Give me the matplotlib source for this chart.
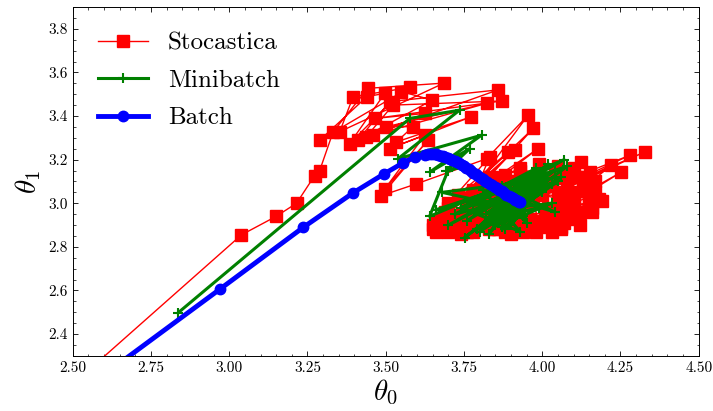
import matplotlib
matplotlib.use("Agg")
from matplotlib import pyplot as plt
from matplotlib.ticker import MultipleLocator

# traiettorie (theta0, theta1)
stoc_t0 = [2.50, 3.039, 3.150, 3.215, 3.273, 3.289, 3.332, 3.443, 3.686, 3.353,
           3.396, 3.577, 3.289, 3.440, 3.497, 3.385, 3.550, 3.649, 3.411, 3.513,
           3.859, 3.438, 3.523, 3.870, 3.467, 3.625, 3.459, 3.822, 3.502, 3.587,
           3.534, 3.774, 3.513, 3.625, 3.497, 3.635, 3.486, 3.598, 3.822, 3.955,
           3.710, 3.971, 3.690, 3.987, 3.650, 3.912, 3.660, 3.891, 3.700, 3.832,
           3.740, 4.125, 3.800, 4.280, 3.950, 4.327, 4.050, 4.221, 4.000, 4.253,
           4.100, 4.152, 3.660, 3.680, 3.720, 3.750, 3.780, 3.800, 3.830, 3.850,
           3.880, 3.900, 3.920, 3.950, 3.970, 3.990, 4.010, 4.030, 4.050, 4.070,
           4.090, 4.110, 4.130, 4.150, 4.170, 4.120, 4.080, 4.020, 3.980, 3.940,
           3.900, 3.860, 3.820, 3.780, 3.760, 3.730, 3.700, 3.840, 3.930, 4.040,
           4.100, 4.060, 3.960, 3.870, 3.790, 4.140, 4.180, 4.000, 3.910, 3.810,
           3.670, 3.860, 4.060, 3.740, 3.950, 4.160, 3.690, 3.890, 4.030, 3.770,
           3.650, 3.700, 3.680, 3.740, 3.710, 3.770, 3.730, 3.800, 3.760, 3.820,
           3.790, 3.850, 3.830, 3.880, 3.860, 3.910, 3.890, 3.940, 3.920, 3.970,
           3.950, 4.000, 3.980, 4.030, 4.010, 4.060, 4.040, 4.090, 4.070, 4.120,
           4.100, 4.150, 4.130, 4.170, 4.110, 4.080, 4.050, 3.990, 3.960, 3.930,
           3.880, 3.810, 4.160, 4.140, 4.190, 4.090, 4.020, 3.900, 3.850, 3.760]
stoc_t1 = [2.17, 2.855, 2.940, 3.000, 3.127, 3.150, 3.328, 3.527, 3.551, 3.328,
           3.489, 3.531, 3.289, 3.489, 3.504, 3.274, 3.512, 3.473, 3.289, 3.466,
           3.520, 3.305, 3.450, 3.469, 3.389, 3.412, 3.312, 3.458, 3.351, 3.351,
           3.281, 3.397, 3.251, 3.312, 3.066, 3.289, 3.035, 3.089, 3.204, 3.404,
           2.930, 3.343, 2.960, 3.251, 2.880, 3.243, 2.920, 3.235, 3.000, 3.212,
           2.900, 3.189, 2.950, 3.220, 3.000, 3.235, 3.050, 3.174, 2.920, 3.143,
           3.020, 3.143, 2.870, 2.900, 2.880, 2.950, 2.870, 2.920, 2.880, 2.970,
           2.900, 2.860, 2.950, 2.880, 3.020, 2.900, 2.960, 2.870, 3.000, 2.910,
           3.050, 2.950, 3.080, 2.990, 3.050, 2.900, 3.100, 3.080, 3.120, 3.060,
           3.040, 3.080, 3.020, 3.060, 3.000, 3.040, 2.980, 3.120, 3.150, 3.140,
           3.160, 2.940, 2.930, 2.930, 2.980, 3.120, 3.020, 3.040, 2.990, 3.070,
           2.900, 2.880, 2.890, 2.860, 2.900, 2.960, 2.940, 3.100, 2.920, 2.890,
           2.900, 2.870, 2.930, 2.880, 2.910, 2.890, 2.940, 2.900, 2.870, 2.930,
           2.950, 2.880, 2.910, 2.870, 2.940, 2.890, 2.920, 2.870, 2.900, 2.880,
           2.930, 2.890, 2.870, 2.920, 2.900, 2.880, 2.950, 2.930, 2.970, 2.960,
           3.000, 3.030, 3.060, 3.100, 3.120, 3.140, 3.170, 3.180, 3.100, 3.160,
           3.130, 3.110, 2.980, 3.070, 3.010, 2.990, 2.980, 2.950, 3.010, 2.970]

mini_t0 = [2.836, 3.577, 3.736, 3.539, 3.806, 3.641, 3.768, 3.694, 3.758, 3.699,
           3.640, 4.070, 3.700, 4.040, 3.752, 3.980, 3.660, 4.080, 3.800, 4.000,
           3.720, 3.950, 3.830, 4.020, 3.760, 3.920, 3.850, 4.050, 3.780, 3.960,
           3.880, 4.010, 3.820, 3.940, 3.900, 4.030, 3.860, 3.970, 3.840, 3.990,
           3.910, 3.870, 4.000, 3.930, 3.890, 3.950, 3.920, 3.880, 3.960, 3.900,
           3.680, 4.060, 3.790, 3.980, 3.740, 3.930, 3.810, 4.040, 3.870, 3.950,
           3.820, 4.030, 3.860, 3.990, 3.900, 3.960, 3.850, 4.010, 3.910, 3.940]
mini_t1 = [2.497, 3.389, 3.427, 3.204, 3.312, 3.143, 3.250, 3.150, 3.173, 3.150,
           2.940, 3.200, 2.900, 3.150, 2.843, 3.100, 2.970, 3.170, 2.870, 3.050,
           2.950, 3.120, 2.860, 3.180, 2.920, 3.060, 2.900, 3.100, 2.990, 3.020,
           2.880, 3.130, 2.950, 3.080, 2.920, 3.000, 2.970, 3.140, 2.930, 2.980,
           3.030, 2.890, 3.100, 2.950, 3.000, 2.910, 3.090, 2.960, 3.040, 2.980,
           3.050, 3.120, 2.880, 3.160, 2.980, 2.870, 3.060, 2.960, 3.080, 3.010,
           2.910, 3.090, 2.940, 3.060, 2.900, 3.020, 2.960, 3.110, 2.990, 2.940]

batch_t0 = [2.53, 2.972, 3.236, 3.396, 3.495, 3.555, 3.593, 3.625, 3.635, 3.645,
            3.653, 3.660, 3.668, 3.675, 3.683, 3.690, 3.698, 3.705, 3.713, 3.720,
            3.728, 3.735, 3.743, 3.750, 3.758, 3.765, 3.773, 3.780, 3.788, 3.795,
            3.803, 3.810, 3.818, 3.825, 3.833, 3.840, 3.848, 3.855, 3.863, 3.870,
            3.878, 3.885, 3.893, 3.900, 3.906, 3.912, 3.917, 3.922, 3.926, 3.930]
batch_t1 = [2.14, 2.608, 2.889, 3.048, 3.135, 3.185, 3.212, 3.222, 3.224, 3.225,
            3.225, 3.224, 3.222, 3.219, 3.216, 3.212, 3.208, 3.204, 3.200, 3.196,
            3.190, 3.183, 3.177, 3.170, 3.163, 3.155, 3.148, 3.141, 3.134, 3.126,
            3.118, 3.111, 3.104, 3.096, 3.089, 3.082, 3.075, 3.068, 3.061, 3.054,
            3.047, 3.040, 3.033, 3.027, 3.022, 3.017, 3.013, 3.009, 3.006, 3.004]

plt.rcParams['font.family'] = 'serif'
plt.rcParams['font.serif'] = ['cmr10']
plt.rcParams['mathtext.fontset'] = 'cm'
plt.rcParams['axes.formatter.use_mathtext'] = True

fig = plt.figure(figsize=(7.13, 4.11), dpi=100)
ax = fig.add_axes([0.102, 0.134, 0.878, 0.849])

ax.plot(stoc_t0, stoc_t1, color='red', marker='s', markersize=8, linewidth=1, label='Stocastica')
ax.plot(mini_t0, mini_t1, color='green', marker='+', markersize=7, markeredgewidth=1.5,
        linewidth=2.2, label='Minibatch')
ax.plot(batch_t0, batch_t1, color='blue', marker='o', markersize=7.5, linewidth=3.5, label='Batch')

ax.set_xlim(2.5, 4.5)
ax.set_ylim(2.3, 3.9)
ax.xaxis.set_major_locator(MultipleLocator(0.25))
ax.xaxis.set_minor_locator(MultipleLocator(0.05))
ax.yaxis.set_major_locator(MultipleLocator(0.2))
ax.yaxis.set_minor_locator(MultipleLocator(0.05))
ax.set_yticks([2.4, 2.6, 2.8, 3.0, 3.2, 3.4, 3.6, 3.8])
ax.xaxis.set_major_formatter(plt.FormatStrFormatter('%.2f'))
ax.yaxis.set_major_formatter(plt.FormatStrFormatter('%.1f'))
ax.tick_params(which='both', direction='in', top=True, right=True, labelsize=11)
ax.tick_params(which='major', length=3.5, width=0.6)
ax.tick_params(which='minor', length=1.8, width=0.5)
for s in ax.spines.values():
    s.set_linewidth(0.7)

ax.set_xlabel(r'$\theta_0$', fontsize=21, labelpad=2)
ax.set_ylabel(r'$\theta_1$', fontsize=21, labelpad=4)
ax.legend(loc='upper left', frameon=False, fontsize=18, handlelength=2.0,
          labelspacing=0.6, borderaxespad=0.6)

fig.savefig('out.png', dpi=100)
